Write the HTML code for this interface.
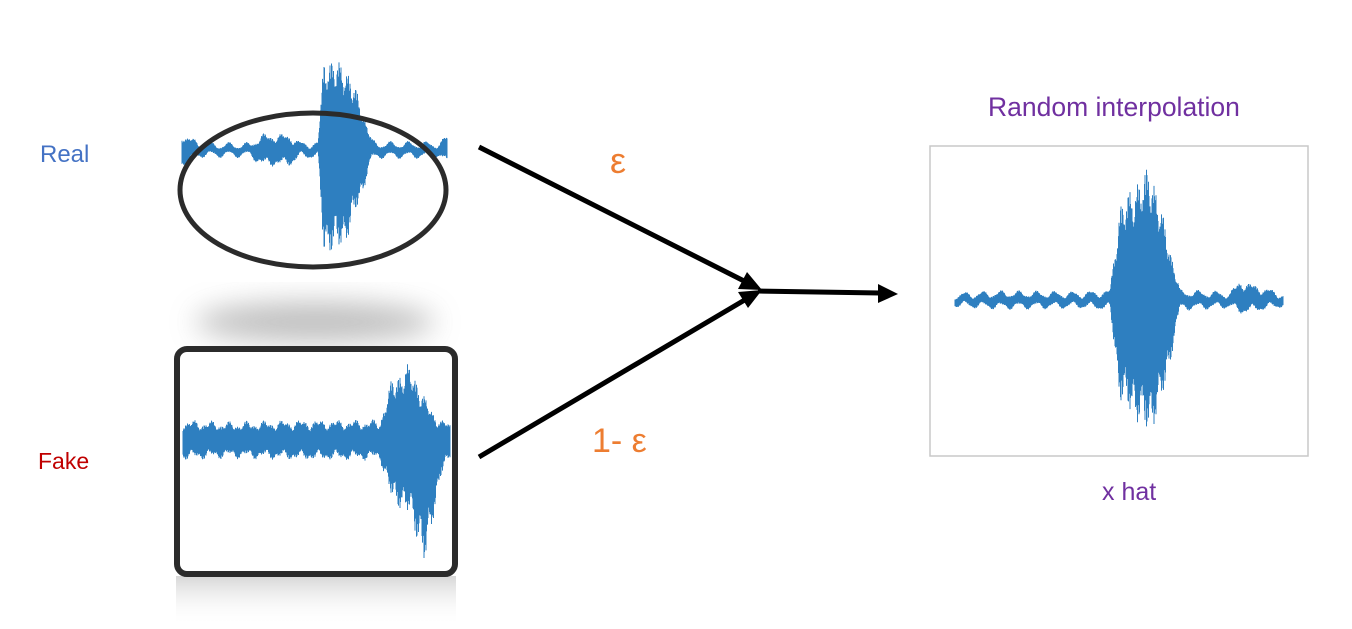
<!DOCTYPE html>
<html><head><meta charset="utf-8">
<style>
html,body{margin:0;padding:0;background:#fff;}
#root{position:relative;width:1352px;height:629px;overflow:hidden;font-family:"Liberation Sans","DejaVu Sans",sans-serif;}
.t{position:absolute;white-space:nowrap;}
</style></head>
<body>
<div id="root">
<svg width="1352" height="629" style="position:absolute;left:0;top:0">
  <defs>
    <filter id="blur" x="-50%" y="-50%" width="200%" height="200%"><feGaussianBlur stdDeviation="14"/></filter>
    <linearGradient id="refl" x1="0" y1="0" x2="0" y2="1">
      <stop offset="0" stop-color="#bbb" stop-opacity="0.6"/>
      <stop offset="1" stop-color="#fff" stop-opacity="0"/>
    </linearGradient>
  </defs>
  <ellipse cx="315" cy="322" rx="120" ry="20" fill="#aaa" opacity="0.75" filter="url(#blur)"/>
  <rect x="176" y="576" width="280" height="50" fill="url(#refl)"/>
  <g id="realWave"></g>
  <ellipse cx="313" cy="190" rx="133" ry="77" fill="none" stroke="#2b2b2b" stroke-width="5"/>
  <rect x="177" y="349" width="278" height="225" rx="10" fill="#fff" stroke="#2b2b2b" stroke-width="6"/>
  <g id="fakeWave"></g>
  <rect x="930" y="146" width="378" height="310" fill="#fff" stroke="#c8c8c8" stroke-width="1.5"/>
  <g id="hatWave"></g>
  <line x1="479" y1="147" x2="748" y2="283" stroke="#000" stroke-width="5"/>
  <polygon points="762,290 738,289 747,272" fill="#000"/>
  <line x1="479" y1="457" x2="748" y2="298" stroke="#000" stroke-width="5"/>
  <polygon points="762,290 748,308 738,292" fill="#000"/>
  <line x1="758" y1="291" x2="880" y2="293" stroke="#000" stroke-width="5"/>
  <polygon points="898,294 878,284 878,303" fill="#000"/>
</svg>
<div class="t" style="left:40px;top:141px;font-size:24px;color:#4472c4">Real</div>
<div class="t" style="left:38px;top:448px;font-size:23px;color:#c00000">Fake</div>
<div class="t" style="left:610px;top:140px;font-size:36px;color:#ed7d31">ε</div>
<div class="t" style="left:592px;top:422px;font-size:34px;color:#ed7d31">1- ε</div>
<div class="t" style="left:988px;top:92px;font-size:26.5px;color:#7030a0">Random interpolation</div>
<div class="t" style="left:1102px;top:478px;font-size:25px;color:#7030a0">x hat</div>
</div>
<script>
// envelopes: [x position (px), amplitude up, amplitude down]
const realEnvX = [182,200,250,262,290,300,318,324,345,360,372,380,440,447];
const realUp   = [16,5,5,14,14,6,6,92,85,50,8,6,6,14];
const realDn   = [16,5,5,14,14,6,6,105,95,50,8,6,6,14];
const fakeEnvX = [183,230,300,380,392,410,425,440,450];
const fakeUp   = [18,16,18,18,60,75,40,18,16];
const fakeDn   = [18,16,18,18,60,75,125,40,16];
const hatEnvX  = [955,1000,1080,1110,1120,1150,1165,1180,1230,1240,1283];
const hatUp    = [5,7,6,8,95,135,75,8,6,18,5];
const hatDn    = [5,7,6,8,100,135,90,8,6,12,5];
function env(xs,vals,x){
  for(let i=0;i<xs.length-1;i++){
    if(x>=xs[i]&&x<=xs[i+1]){const t=(x-xs[i])/(xs[i+1]-xs[i]);return vals[i]+(vals[i+1]-vals[i])*t;}
  }
  return vals[vals.length-1];
}
function draw(id,xs,up,dn,base){
  const g=document.getElementById(id);
  let d='';
  for(let x=xs[0];x<=xs[xs.length-1];x+=0.5){
    const k=0.65+0.35*Math.abs(Math.sin(x*1.7)*Math.cos(x*0.37));
    const a=env(xs,up,x)*k, b=env(xs,dn,x)*k;
    const w=Math.sin(x*0.35)*3;
    d+=`M${x} ${base+w-a}L${x} ${base+w+b}`;
  }
  const p=document.createElementNS('http://www.w3.org/2000/svg','path');
  p.setAttribute('d',d);
  p.setAttribute('stroke','#2e7fc0');
  p.setAttribute('stroke-width','1');
  p.setAttribute('fill','none');
  
  
  g.appendChild(p);
}
draw('realWave',realEnvX,realUp,realDn,150);
draw('fakeWave',fakeEnvX,fakeUp,fakeDn,440);
draw('hatWave',hatEnvX,hatUp,hatDn,300);
</script>
</body></html>
